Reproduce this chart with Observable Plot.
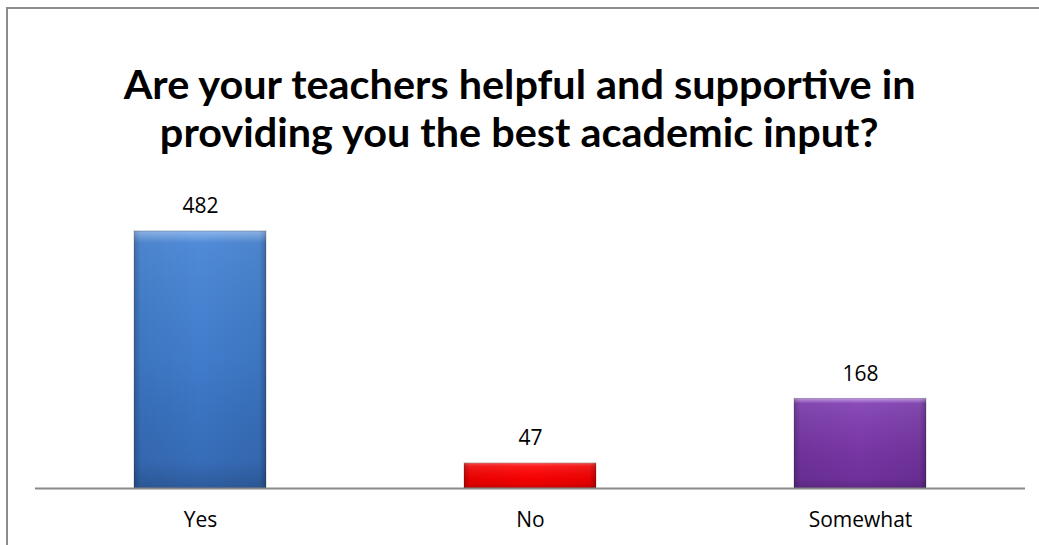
<!DOCTYPE html>
<html>
<head>
<meta charset="utf-8">
<script src="https://cdn.jsdelivr.net/npm/d3@7"></script>
<script src="https://cdn.jsdelivr.net/npm/@observablehq/plot@0.6"></script>
<style>
  html, body { margin: 0; padding: 0; background: #fff; }
  #wrap { position: relative; width: 1039px; height: 545px; overflow: hidden; font-family: "Open Sans", sans-serif; }
  #frame { position: absolute; left: 6px; top: 7px; width: 1060px; height: 600px;
           border-left: 2px solid #8c8c8c; border-top: 2px solid #8c8c8c; box-sizing: border-box; }
  #title { position: relative; height: 150px; box-sizing: border-box; padding-top: 60px;
           text-align: center; font-family: Lato, "Open Sans", sans-serif; font-weight: 700;
           font-size: 40px; line-height: 48px; color: #000; }
  #title span { display: inline-block; white-space: nowrap; transform-origin: 50% 50%; }
  #chart { position: relative; }
</style>
</head>
<body>
<div id="wrap">
  <div id="frame"></div>
  <div id="title"><span id="t1">Are your teachers helpful and supportive in</span><br><span id="t2">providing you the best academic input?</span></div>
  <div id="chart"></div>
</div>
<script>
const categories = ["Yes", "No", "Somewhat"];
const values = [482, 47, 168];
const gradientIds = ["gYes", "gNo", "gSome"];

const data = categories.map((c, i) => ({category: c, value: values[i], grad: gradientIds[i]}));

// Condense the title slightly to match the original line width
const titleScale = 792 / document.getElementById("t1").getBoundingClientRect().width;
for (const id of ["t1", "t2"]) document.getElementById(id).style.transform = `scaleX(${titleScale})`;

const chart = Plot.plot({
  width: 1039,
  height: 395,
  marginTop: 18,
  marginBottom: 57,
  marginLeft: 35,
  marginRight: 14,
  style: {fontFamily: "'Open Sans', sans-serif", fontSize: "21px", color: "#000", background: "transparent"},
  x: {domain: categories, paddingInner: 0.6, paddingOuter: 0.3, label: null},
  y: {domain: [0, 600], axis: null},
  marks: [
    Plot.barY(data, {x: "category", y: "value", fill: d => `url(#${d.grad})`}),
    Plot.barY(data, {x: "category", y: "value", fill: "url(#gEdge)"}),
    Plot.barY(data, {x: "category", y: "value", fill: "url(#gTopShade)", stroke: "rgba(0,0,0,0.2)", strokeWidth: 1}),
    Plot.ruleY([0], {stroke: "#8a8a8a", strokeWidth: 2}),
    Plot.axisX({tickSize: 0, tickPadding: 24, fontSize: 21, fill: "#000", label: null}),
    Plot.text(data, {x: "category", y: "value", text: d => String(d.value), dy: -25, fontSize: 21, fill: "#000"})
  ]
});

// gradient definitions for the bevelled bars
const svgSel = d3.select(chart);
const defs = svgSel.insert("defs", ":first-child");
function addGrad(id, horizontal, stops) {
  const g = defs.append("linearGradient").attr("id", id)
    .attr("x1", 0).attr("y1", 0).attr("x2", horizontal ? 1 : 0).attr("y2", horizontal ? 0 : 1);
  stops.forEach(([o, c]) => g.append("stop").attr("offset", o).attr("stop-color", c));
}
addGrad("gYes", false, [[0, "#5b97e3"], [0.04, "#4584d6"], [0.5, "#3f7cce"], [1, "#3468b2"]]);
addGrad("gNo", false, [[0, "#ff4040"], [0.15, "#ff1010"], [0.6, "#fb0000"], [1, "#dc0000"]]);
addGrad("gSome", false, [[0, "#a56ad8"], [0.06, "#8241b4"], [0.5, "#7a37a8"], [1, "#6c2f98"]]);
addGrad("gEdge", true, [[0, "rgba(0,0,0,0.25)"], [0.05, "rgba(0,0,0,0.06)"], [0.5, "rgba(0,0,0,0)"], [0.95, "rgba(0,0,0,0.06)"], [1, "rgba(0,0,0,0.28)"]]);
addGrad("gTopShade", false, [[0, "rgba(255,255,255,0.3)"], [0.05, "rgba(255,255,255,0.06)"], [0.9, "rgba(0,0,0,0)"], [1, "rgba(0,0,0,0.12)"]]);

document.getElementById("chart").appendChild(chart);
</script>
</body>
</html>
